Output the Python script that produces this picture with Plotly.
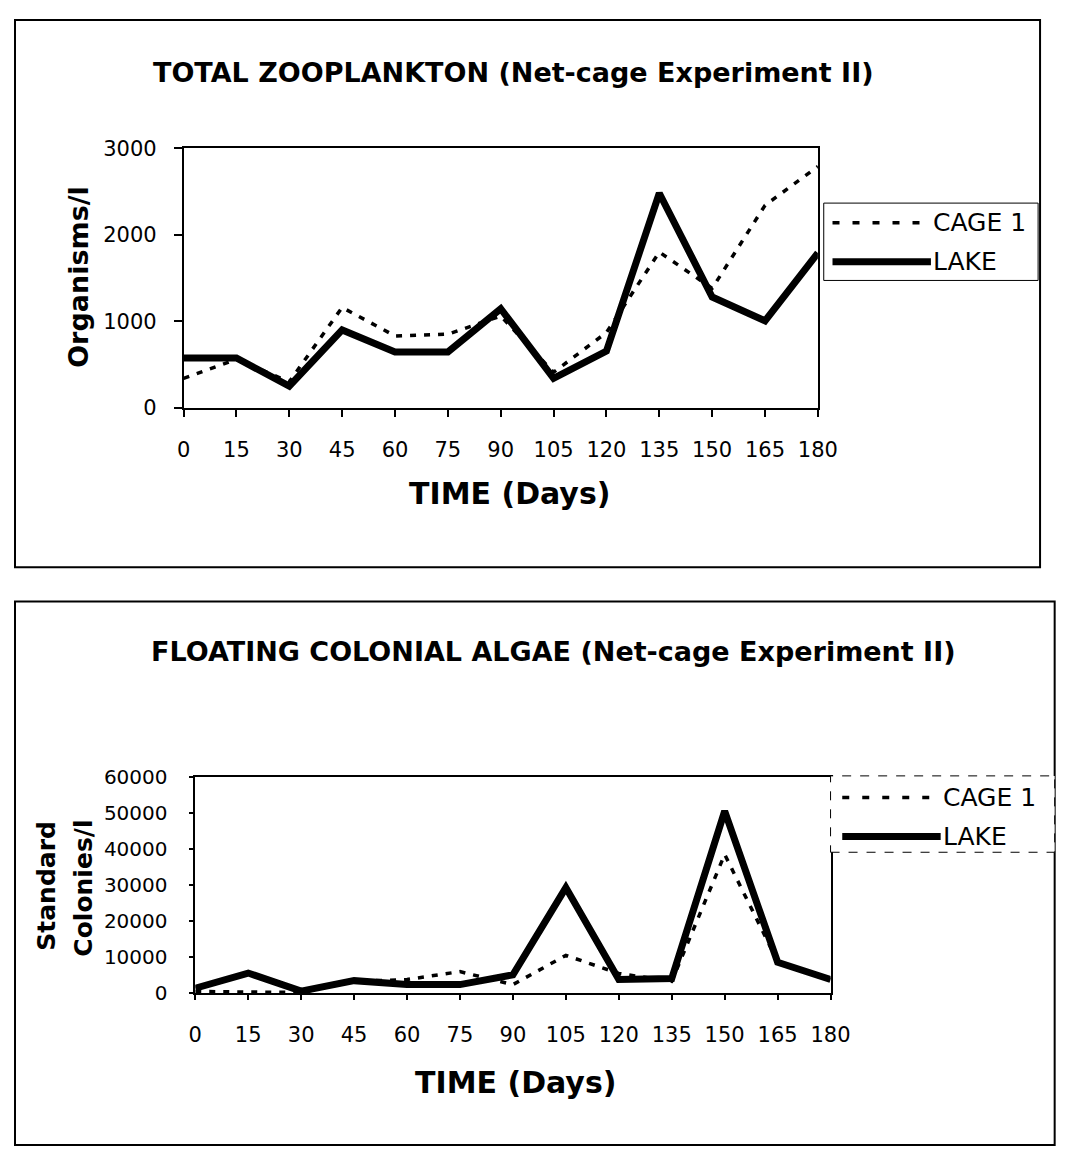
import plotly.graph_objects as go

days = [0, 15, 30, 45, 60, 75, 90, 105, 120, 135, 150, 165, 180]

zoo_cage1 = [340, 560, 300, 1160, 830, 850, 1060, 410, 870, 1800, 1380, 2340, 2790]
zoo_lake = [575, 575, 250, 900, 645, 645, 1145, 340, 655, 2480, 1280, 1005, 1790]

algae_cage1 = [500, 400, 200, 3300, 3800, 6000, 2400, 10500, 5500, 3300, 38500, 8800, 3800]
algae_lake = [1400, 5600, 600, 3500, 2400, 2400, 5100, 29300, 3800, 4100, 50500, 8600, 3800]

series_names = ["CAGE 1", "LAKE"]

# page is 1070x1166; the html body adds an 8px margin around the figure
PAGE_W, PAGE_H, OFF = 1070, 1166, 8
W, H = PAGE_W - 2 * OFF, PAGE_H - 2 * OFF
FONT = "DejaVu Sans, Verdana, sans-serif"


def px(x):
    return (x - OFF) / W


def py(y):
    return 1 - (y - OFF) / H


fig = go.Figure()

cage_line = dict(color="black", width=3.5, dash="6px,8px")
lake_line = dict(color="black", width=7)

fig.add_trace(go.Scatter(x=days, y=zoo_cage1, name=series_names[0], mode="lines", line=cage_line,
                         xaxis="x", yaxis="y", showlegend=False))
fig.add_trace(go.Scatter(x=days, y=zoo_lake, name=series_names[1], mode="lines", line=lake_line,
                         xaxis="x", yaxis="y", showlegend=False))
fig.add_trace(go.Scatter(x=days, y=algae_cage1, name=series_names[0], mode="lines", line=cage_line,
                         xaxis="x2", yaxis="y2", showlegend=False))
fig.add_trace(go.Scatter(x=days, y=algae_lake, name=series_names[1], mode="lines", line=lake_line,
                         xaxis="x2", yaxis="y2", showlegend=False))

tickfont = dict(family=FONT, size=21, color="black")
common_x = dict(range=[0, 180], tickmode="array", tickvals=days, ticktext=[str(d) for d in days],
                showline=True, linecolor="black", linewidth=1.5, mirror=True, ticks="outside",
                tickcolor="black", tickwidth=1.5, showgrid=False, zeroline=False,
                tickfont=tickfont, fixedrange=True)
common_y = dict(showline=True, linecolor="black", linewidth=1.5, mirror=True, ticks="outside",
                tickcolor="black", tickwidth=1.5, showgrid=False, zeroline=False,
                fixedrange=True)

shapes = [
    dict(type="rect", xref="paper", yref="paper", x0=px(8), x1=px(1060), y0=py(567), y1=py(8),
         line=dict(color="black", width=2)),
    dict(type="rect", xref="paper", yref="paper", x0=px(8), x1=px(1075), y0=py(1157), y1=py(602),
         line=dict(color="black", width=2)),
]
annotations = [
    dict(text="<b>TOTAL ZOOPLANKTON (Net-cage Experiment II)</b>", x=px(520), y=py(62),
         xref="paper", yref="paper", showarrow=False, xanchor="center", yanchor="middle",
         font=dict(family=FONT, size=27, color="black")),
    dict(text="<b>TIME (Days)</b>", x=px(516), y=py(492), xref="paper", yref="paper",
         showarrow=False, xanchor="center", yanchor="middle",
         font=dict(family=FONT, size=30, color="black")),
    dict(text="<b>Organisms/l</b>", x=px(73), y=py(270), xref="paper", yref="paper",
         showarrow=False, xanchor="center", yanchor="middle", textangle=-90,
         font=dict(family=FONT, size=27, color="black")),
    dict(text="<b>FLOATING COLONIAL ALGAE (Net-cage Experiment II)</b>", x=px(561), y=py(653),
         xref="paper", yref="paper", showarrow=False, xanchor="center", yanchor="middle",
         font=dict(family=FONT, size=27, color="black")),
    dict(text="<b>TIME (Days)</b>", x=px(522), y=py(1093), xref="paper", yref="paper",
         showarrow=False, xanchor="center", yanchor="middle",
         font=dict(family=FONT, size=30, color="black")),
    dict(text="<b>Standard</b>", x=px(40), y=py(892), xref="paper", yref="paper",
         showarrow=False, xanchor="center", yanchor="middle", textangle=-90,
         font=dict(family=FONT, size=25, color="black")),
    dict(text="<b>Colonies/l</b>", x=px(78), y=py(895), xref="paper", yref="paper",
         showarrow=False, xanchor="center", yanchor="middle", textangle=-90,
         font=dict(family=FONT, size=25, color="black")),
]


def add_legend(box, rows, sample_x, text_x, border_dash):
    x0, y0, x1, y1 = box
    shapes.append(dict(type="rect", xref="paper", yref="paper", x0=px(x0), x1=px(x1),
                       y0=py(y1), y1=py(y0), fillcolor="white",
                       line=dict(color="black", width=1, dash=border_dash)))
    styles = [dict(color="black", width=3.5, dash="7px,13px"), dict(color="black", width=7)]
    for name, ry, st in zip(series_names, rows, styles):
        shapes.append(dict(type="line", xref="paper", yref="paper", x0=px(sample_x[0]),
                           x1=px(sample_x[1]), y0=py(ry), y1=py(ry), line=st))
        annotations.append(dict(text=name, x=px(text_x), y=py(ry), xref="paper", yref="paper",
                                showarrow=False, xanchor="left", yanchor="middle",
                                font=dict(family=FONT, size=25, color="black")))


add_legend((838, 195, 1058, 274), (215, 255), (847, 948), 948, "solid")
add_legend((845, 780, 1075, 858), (802, 842), (857, 958), 958, "dash")

fig.update_layout(
    width=W, height=H,
    margin=dict(l=0, r=0, t=0, b=0),
    paper_bgcolor="white", plot_bgcolor="white",
    font=dict(family=FONT, color="black"),
    showlegend=False,
    xaxis=dict(domain=[px(181), px(832)], anchor="y", ticklen=8, ticklabelstandoff=14, **common_x),
    yaxis=dict(domain=[py(404), py(139)], anchor="x", range=[0, 3000], dtick=1000,
               ticklen=8, ticklabelstandoff=13, tickfont=tickfont, **common_y),
    xaxis2=dict(domain=[px(193), px(845)], anchor="y2", ticklen=5, ticklabelstandoff=17, **common_x),
    yaxis2=dict(domain=[py(1002), py(781)], anchor="x2", range=[0, 60000], dtick=10000,
                tickformat="d", ticklen=5, ticklabelstandoff=17,
                tickfont=dict(family=FONT, size=20, color="black"), **common_y),
    shapes=shapes,
    annotations=annotations,
)

fig.write_html("out.html")
